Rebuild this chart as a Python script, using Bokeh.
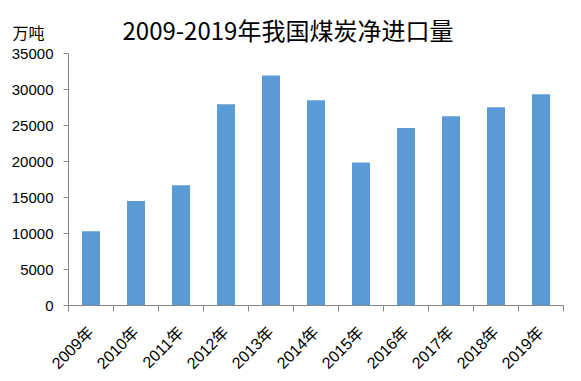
from bokeh.plotting import figure
from bokeh.models import FixedTicker, Range1d, Title, Label, ColumnDataSource
from bokeh.embed import file_html
from bokeh.resources import INLINE
import math

years = ["2009年", "2010年", "2011年", "2012年", "2013年", "2014年",
         "2015年", "2016年", "2017年", "2018年", "2019年"]
net_imports = [10300, 14500, 16700, 27950, 31950, 28500, 19850, 24650, 26300, 27550, 29350]
y_ticks = [0, 5000, 10000, 15000, 20000, 25000, 30000, 35000]
title_text = "2009-2019年我国煤炭净进口量"
unit_text = "万吨"

xs = list(range(len(years)))
src = ColumnDataSource(dict(x=xs, v=net_imports))

p = figure(width=575, height=381, output_backend="svg", toolbar_location=None,
           x_range=Range1d(-0.5, len(years) - 0.5), y_range=Range1d(0, 35000),
           min_border_left=68, min_border_right=12, min_border_top=53, min_border_bottom=74)
p.outline_line_color = None
p.xgrid.visible = False
p.ygrid.visible = False
p.background_fill_color = "white"
p.border_fill_color = "white"

p.vbar(x="x", top="v", width=0.4, source=src, color="#5B9BD5", line_color=None)

axis_color = "#868686"
label_font = "Liberation Sans, Noto Sans CJK SC"

# x axis
p.xaxis.ticker = FixedTicker(ticks=xs, minor_ticks=[i - 0.5 for i in range(len(years) + 1)])
p.xaxis.major_label_overrides = {i: y for i, y in zip(xs, years)}
p.xaxis.major_tick_out = 0
p.xaxis.major_tick_in = 0
p.xaxis.minor_tick_out = 6
p.xaxis.minor_tick_in = 0
p.xaxis.minor_tick_line_color = axis_color
p.xaxis.axis_line_color = axis_color
p.xaxis.major_label_orientation = math.pi / 4
p.xaxis.major_label_text_font = label_font
p.xaxis.major_label_text_font_size = "16px"
p.xaxis.major_label_text_color = "black"
p.xaxis.major_label_standoff = 18

# y axis
p.yaxis.ticker = FixedTicker(ticks=y_ticks)
p.yaxis.major_tick_out = 5
p.yaxis.major_tick_in = 0
p.yaxis.minor_tick_line_color = None
p.yaxis.axis_line_color = axis_color
p.yaxis.major_tick_line_color = axis_color
p.yaxis.major_label_text_font = label_font
p.yaxis.major_label_text_font_size = "15px"
p.yaxis.major_label_text_color = "black"
p.yaxis.major_label_standoff = 10

# unit label (innermost above panel, positioned from the y range top)
lab = Label(x=-56, y=35000, x_units="screen", y_units="data", y_offset=10,
            text=unit_text, text_baseline="bottom",
            text_font="Noto Sans CJK SC", text_font_size="16px", text_color="black")
p.add_layout(lab, "above")

t = Title(text=title_text, align="left", offset=54, text_font="Noto Sans CJK SC",
          text_font_size="24px", text_font_style="normal", text_color="black",
          standoff=-34)
p.add_layout(t, "above")

open("out.html", "w").write(file_html(p, INLINE))
